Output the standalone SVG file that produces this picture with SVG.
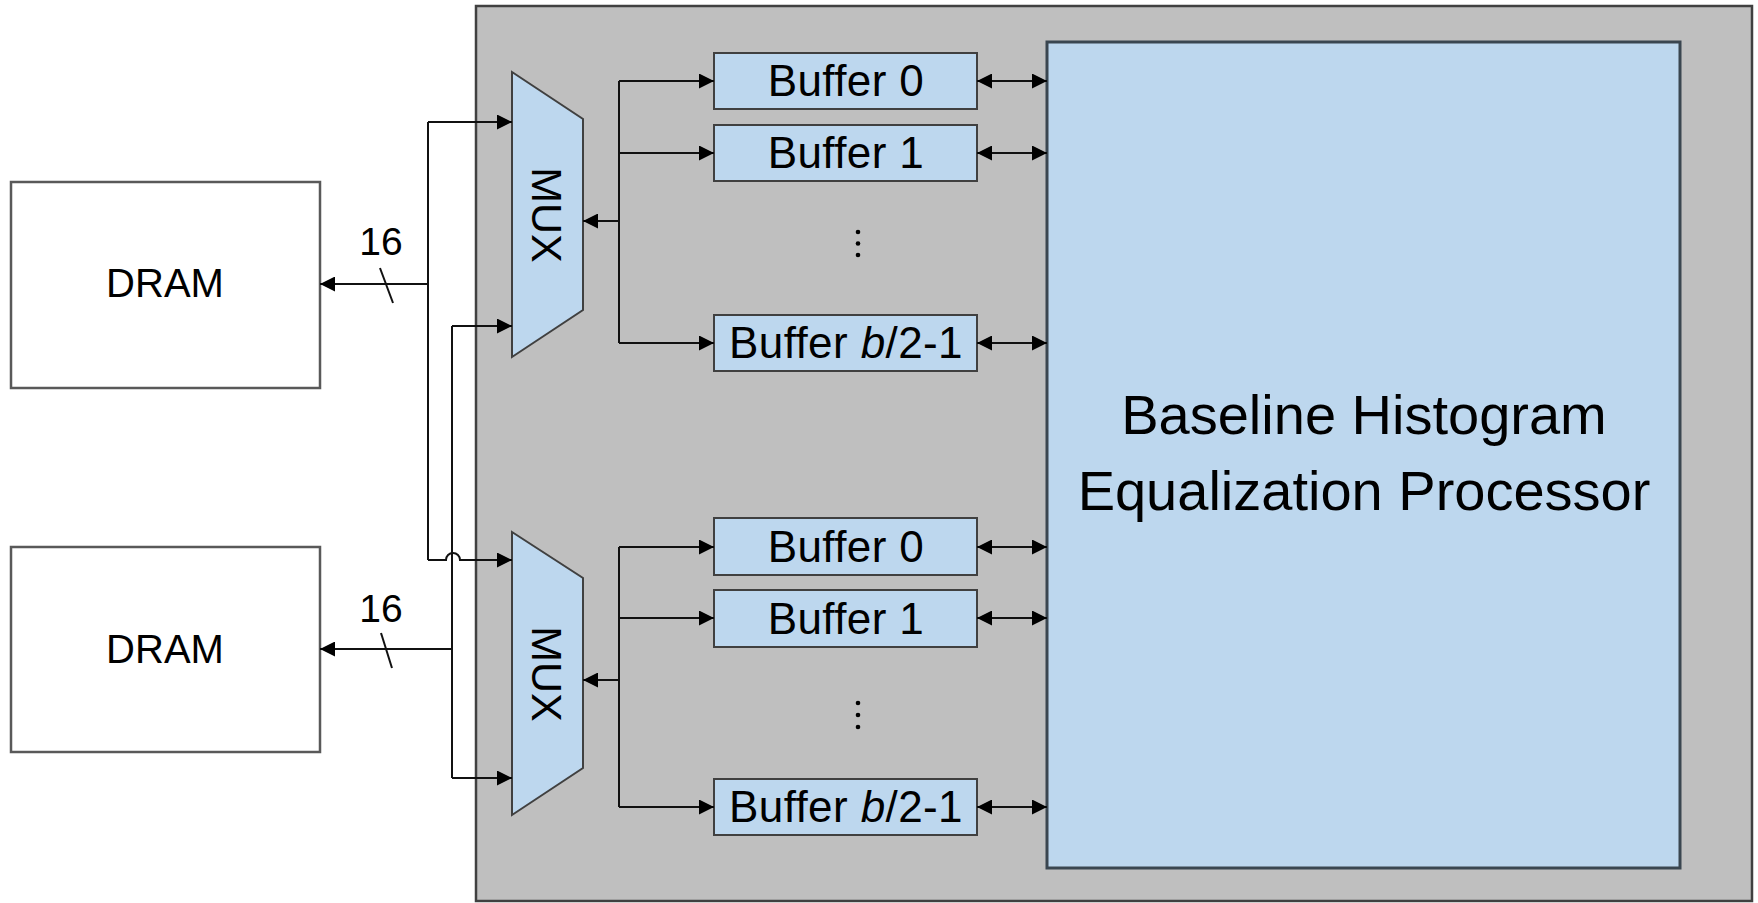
<svg xmlns="http://www.w3.org/2000/svg" width="1758" height="903" viewBox="0 0 1758 903">
<style>
text{font-family:"Liberation Sans",Arial,sans-serif;fill:#000}
.panel{fill:#bfbfbf;stroke:#404040;stroke-width:2.5}
.blue{fill:#bdd7ee;stroke:#404040;stroke-width:2}
.proc{fill:#bdd7ee;stroke:#3a4650;stroke-width:3}
.dram{fill:#fff;stroke:#595959;stroke-width:2.5}
.buf{font-size:44px;text-anchor:middle;letter-spacing:0.4px}
.ptxt{font-size:56px;text-anchor:middle}
.ln{fill:none;stroke:#111;stroke-width:2}
.arr{marker-end:url(#ah)}
.bi{marker-start:url(#ah);marker-end:url(#ah)}
</style>
<defs>
<marker id="ah" viewBox="0 0 10 10" refX="10" refY="5" markerWidth="17" markerHeight="15" markerUnits="userSpaceOnUse" orient="auto-start-reverse"><path d="M0,0 L10,5 L0,10 z" fill="#000"/></marker>
</defs>
<rect id="panel" class="panel" x="476" y="6" width="1276" height="895"/>
<g id="dram1"><rect class="dram" x="11" y="182" width="309" height="206"/><text x="165" y="297" font-size="40" text-anchor="middle">DRAM</text></g>
<g id="dram2"><rect class="dram" x="11" y="547" width="309" height="205"/><text x="165" y="663" font-size="40" text-anchor="middle">DRAM</text></g>
<g id="mux1"><polygon class="blue" points="512,72 583,119 583,310 512,357"/><text transform="translate(532,215) rotate(90)" font-size="43" text-anchor="middle">MUX</text></g>
<g id="mux2"><polygon class="blue" points="512,532 583,578 583,768 512,815"/><text transform="translate(532,674) rotate(90)" font-size="43" text-anchor="middle">MUX</text></g>
<g id="buf-a0"><rect class="blue" x="714" y="53" width="263" height="56"/><text class="buf" x="846" y="96">Buffer 0</text></g>
<g id="buf-a1"><rect class="blue" x="714" y="125" width="263" height="56"/><text class="buf" x="846" y="168">Buffer 1</text></g>
<g id="buf-an"><rect class="blue" x="714" y="315" width="263" height="56"/><text class="buf" x="846" y="358">Buffer <tspan font-style="italic">b</tspan>/2-1</text></g>
<g id="buf-b0"><rect class="blue" x="714" y="518" width="263" height="57"/><text class="buf" x="846" y="562">Buffer 0</text></g>
<g id="buf-b1"><rect class="blue" x="714" y="590" width="263" height="57"/><text class="buf" x="846" y="634">Buffer 1</text></g>
<g id="buf-bn"><rect class="blue" x="714" y="779" width="263" height="56"/><text class="buf" x="846" y="822">Buffer <tspan font-style="italic">b</tspan>/2-1</text></g>
<g id="dots">
<circle cx="858" cy="232" r="2.3"/><circle cx="858" cy="243.5" r="2.3"/><circle cx="858" cy="255" r="2.3"/>
<circle cx="858" cy="703" r="2.3"/><circle cx="858" cy="715" r="2.3"/><circle cx="858" cy="727" r="2.3"/>
</g>
<g id="processor"><rect class="proc" x="1047" y="42" width="633" height="826"/>
<text class="ptxt" x="1364" y="434">Baseline Histogram</text>
<text class="ptxt" x="1364" y="510">Equalization Processor</text></g>
<g id="connectors">
<path class="ln arr" d="M428,284 H320"/>
<path class="ln" d="M428,122 V560"/>
<path class="ln arr" d="M428,122 H512"/>
<path class="ln arr" d="M428,560 H446 A7,7 0 0 1 460,560 H512"/>
<path class="ln arr" d="M452,649 H320"/>
<path class="ln" d="M452,326 V778"/>
<path class="ln arr" d="M452,326 H512"/>
<path class="ln arr" d="M452,778 H512"/>
<path class="ln" d="M380,268 L393,303"/>
<path class="ln" d="M381,633 L392,668"/>
<path class="ln arr" d="M619,221 H583"/>
<path class="ln" d="M619,81 V343"/>
<path class="ln arr" d="M619,81 H714"/>
<path class="ln arr" d="M619,153 H714"/>
<path class="ln arr" d="M619,343 H714"/>
<path class="ln arr" d="M619,680 H583"/>
<path class="ln" d="M619,547 V807"/>
<path class="ln arr" d="M619,547 H714"/>
<path class="ln arr" d="M619,618 H714"/>
<path class="ln arr" d="M619,807 H714"/>
<path class="ln bi" d="M977,81 H1047"/>
<path class="ln bi" d="M977,153 H1047"/>
<path class="ln bi" d="M977,343 H1047"/>
<path class="ln bi" d="M977,547 H1047"/>
<path class="ln bi" d="M977,618 H1047"/>
<path class="ln bi" d="M977,807 H1047"/>
</g>
<text x="381" y="255" font-size="39" text-anchor="middle">16</text>
<text x="381" y="622" font-size="39" text-anchor="middle">16</text>
</svg>
